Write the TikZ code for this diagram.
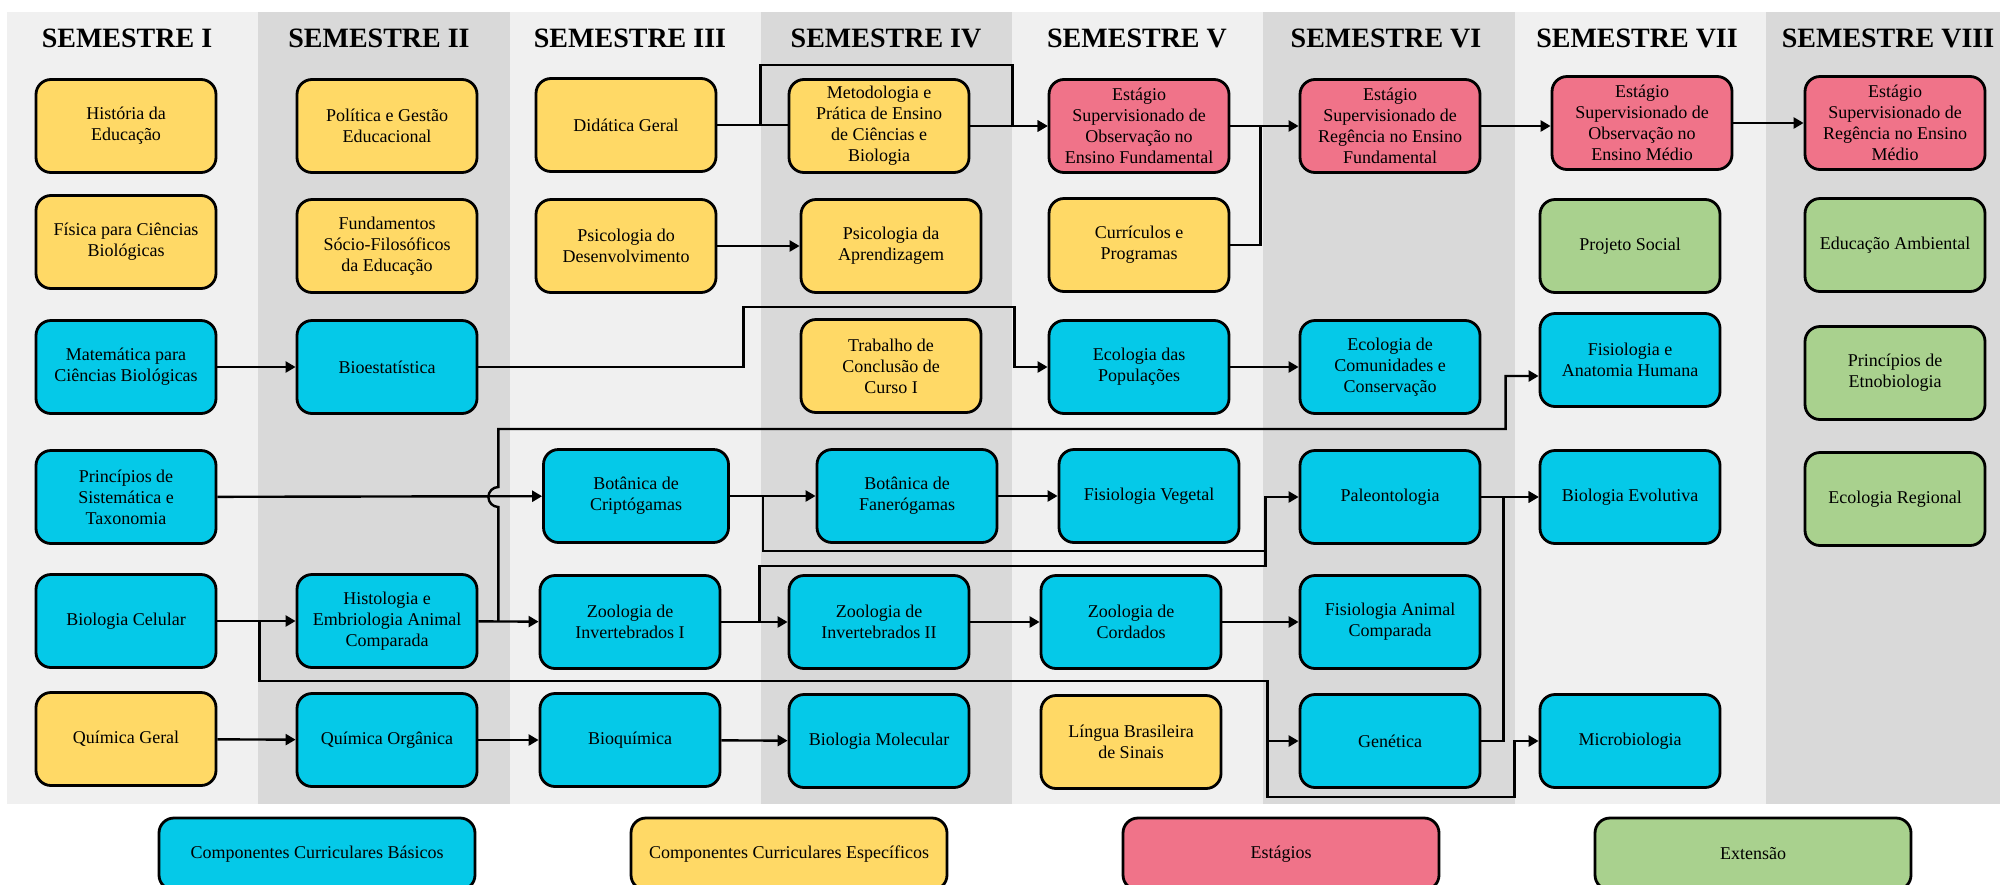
\documentclass[tikz,border=0pt]{standalone}
\usepackage{fontspec}
\setmainfont{Liberation Serif}
\usetikzlibrary{positioning}
\usetikzlibrary{calc}
\usetikzlibrary{arrows.meta}
\definecolor{azul}{RGB}{5,201,232}
\definecolor{amarelo}{RGB}{255,217,102}
\definecolor{rosa}{RGB}{240,115,137}
\definecolor{verde}{RGB}{169,209,142}
\definecolor{claro}{RGB}{240,240,240}
\definecolor{escuro}{RGB}{217,217,217}
\tikzset{>={Triangle[length=5pt,width=5.5pt]}}
\tikzset{disc/.style={draw, line width=1.4pt, rounded corners=7.5pt, minimum width=90pt, minimum height=46.5pt, inner sep=2pt, align=center, font=\fontsize{9}{10.5}\selectfont}}
\tikzset{bas/.style={disc, fill=azul}}
\tikzset{esp/.style={disc, fill=amarelo}}
\tikzset{estag/.style={disc, fill=rosa}}
\tikzset{ext/.style={disc, fill=verde}}
\tikzset{sem/.style={anchor=base, font=\fontsize{14}{16}\selectfont\bfseries}}
\tikzset{leg/.style={minimum width=158pt, minimum height=36pt}}
\tikzset{lig/.style={line width=1.2pt}}

\begin{document}
\begin{tikzpicture}[x=0.5pt, y=0.5pt, on grid]
    \useasboundingbox (0,0) rectangle (2000,-884);
    % colunas dos semestres
    \foreach \xa/\cor in {7/claro,258/escuro,510/claro,761/escuro,1012/claro,1263/escuro,1515/claro,1766/escuro}
        \fill[\cor] (\xa,-12) rectangle ++(251.5,-792);
    \foreach \xa/\num in {127/I,379/II,630/III,886/IV,1137/V,1386/VI,1637/VII,1888/VIII}
        \node[sem] (sem\num) at (\xa,-47) {SEMESTRE \num};

    % semestre I
    \node[esp] (hist) at (126,-126) {História da\\Educação};
    \node[esp, below=116 of hist] (fis) {Física para Ciências\\Biológicas};
    \node[bas, below=125 of fis] (mat) {Matemática para\\Ciências Biológicas};
    \node[bas, below=130 of mat] (princ) {Princípios de\\Sistemática e\\Taxonomia};
    \node[bas, below=124 of princ] (biocel) {Biologia Celular};
    \node[esp, below=118 of biocel] (quimg) {Química Geral};

    % semestre II
    \node[esp] (polit) at (387,-126) {Política e Gestão\\Educacional};
    \node[esp, below=120 of polit] (fund) {Fundamentos\\Sócio-Filosóficos\\da Educação};
    \node[bas, below=121 of fund] (bioest) {Bioestatística};
    \node[bas, below=254 of bioest] (histo) {Histologia e\\Embriologia Animal\\Comparada};
    \node[bas, below=119 of histo] (quimo) {Química Orgânica};

    % semestre III
    \node[esp] (didat) at (626,-125) {Didática Geral};
    \node[esp, below=121 of didat] (psidev) {Psicologia do\\Desenvolvimento};
    \node[bas, below=250 of psidev, xshift=5, minimum width=92.5pt] (botcr) {Botânica de\\Criptógamas};
    \node[bas, below=126 of botcr, xshift=-3] (zoo1) {Zoologia de\\Invertebrados I};
    \node[bas, below=118 of zoo1] (bioq) {Bioquímica};

    % semestre IV
    \node[esp] (metod) at (879,-126) {Metodologia e\\Prática de Ensino\\de Ciências e\\Biologia};
    \node[esp, below=120 of metod, xshift=6] (psiap) {Psicologia da\\Aprendizagem};
    \node[esp, below=120 of psiap] (tcc) {Trabalho de\\Conclusão de\\Curso I};
    \node[bas, below=130 of tcc, xshift=8] (botfa) {Botânica de\\Fanerógamas};
    \node[bas, below=126 of botfa, xshift=-14] (zoo2) {Zoologia de\\Invertebrados II};
    \node[bas, below=119 of zoo2] (biomol) {Biologia Molecular};

    % semestre V
    \node[estag] (est5) at (1139,-126) {Estágio\\Supervisionado de\\Observação no\\Ensino Fundamental};
    \node[esp, below=119 of est5] (curr) {Currículos e\\Programas};
    \node[bas, below=122 of curr] (ecopop) {Ecologia das\\Populações};
    \node[bas, below=129 of ecopop, xshift=5] (fisveg) {Fisiologia Vegetal};
    \node[bas, below=126 of fisveg, xshift=-9] (zoocord) {Zoologia de\\Cordados};
    \node[esp, below=120 of zoocord] (libras) {Língua Brasileira\\de Sinais};

    % semestre VI
    \node[estag] (est6) at (1390,-126) {Estágio\\Supervisionado de\\Regência no Ensino\\Fundamental};
    \node[bas, below=241 of est6] (ecocom) {Ecologia de\\Comunidades e\\Conservação};
    \node[bas, below=130 of ecocom] (paleo) {Paleontologia};
    \node[bas, below=125 of paleo] (fisan) {Fisiologia Animal\\Comparada};
    \node[bas, below=119 of fisan] (genet) {Genética};

    % semestre VII
    \node[estag] (est7) at (1642,-123) {Estágio\\Supervisionado de\\Observação no\\Ensino Médio};
    \node[ext, below=123 of est7, xshift=-6] (projsoc) {Projeto Social};
    \node[bas, below=114 of projsoc] (fisanat) {Fisiologia e\\Anatomia Humana};
    \node[bas, below=137 of fisanat] (bioevol) {Biologia Evolutiva};
    \node[bas, below=244 of bioevol] (micro) {Microbiologia};

    % semestre VIII
    \node[estag] (est8) at (1895,-123) {Estágio\\Supervisionado de\\Regência no Ensino\\Médio};
    \node[ext, below=122 of est8] (edamb) {Educação Ambiental};
    \node[ext, below=128 of edamb] (etno) {Princípios de\\Etnobiologia};
    \node[ext, below=126 of etno] (ecoreg) {Ecologia Regional};

    % legenda
    \node[bas, leg] (lbas) at (317,-854) {Componentes Curriculares Básicos};
    \node[esp, leg, right=472 of lbas] (lesp) {Componentes Curriculares Específicos};
    \node[estag, leg, right=492 of lesp] (lest) {Estágios};
    \node[ext, leg, right=472 of lest] (lext) {Extensão};

    % ligacoes
    \draw[lig] (didat.east) -- (didat.east -| metod.west);
    \draw[lig, ->] (didat.east) -- ++(43,0) |- ($(metod.north east)+(42,13)$) |- (est5.west);
    \draw[lig, ->] (metod) -- (est5);
    \draw[lig, ->] (est5) -- (est6);
    \draw[lig] (curr.east) -| ($(est5.east)+(30,0)$);
    \draw[lig, ->] (est6.east) -- (est6.east -| est7.west);
    \draw[lig, ->] (est7) -- (est8);
    \draw[lig, ->] (psidev) -- (psiap);
    \draw[lig, ->] (mat) -- (bioest);
    \draw[lig, ->] (bioest.east) -| ($(tcc.north west)+(-56,11)$) -- ($(tcc.north east)+(32,11)$) |- (ecopop.west);
    \draw[lig, ->] (ecopop) -- (ecocom);
    \draw[lig, ->] (princ) -- (botcr);
    \draw[lig, ->] (biocel) -- (histo);
    \draw[lig, ->] (histo) -- (zoo1);
    \draw[lig, ->] ($(histo.east)+(20,0)$) -- ($(histo.east |- princ)+(20,-10)$)
        arc[start angle=270, end angle=90, radius=10]
        |- ($(fisanat.west)+(-33,-69)$) |- ($(fisanat.west)+(0,-16)$);
    \draw[lig, ->] (botcr) -- (botfa);
    \draw[lig, ->] ($(botcr.east)+(33,0)$) |- ($(paleo.west)+(-33,-54)$) |- (paleo.west);
    \draw[lig, ->] (botfa) -- (fisveg);
    \draw[lig, ->] (zoo1) -- (zoo2);
    \draw[lig] ($(zoo1.east)+(38,0)$) |- ($(paleo.west)+(-33,-69)$) -- ($(paleo.west)+(-33,-54)$);
    \draw[lig, ->] (zoo2) -- (zoocord);
    \draw[lig, ->] (zoocord) -- (fisan);
    \draw[lig, ->] ($(biocel.east)+(42,0)$) |- ($(genet.west)+(-31,60)$) |- (genet.west);
    \draw[lig, ->] ($(genet.west)+(-31,0)$) |- ($(micro.west)+(-24,-56)$) |- (micro.west);
    \draw[lig, ->] (paleo) -- (bioevol);
    \draw[lig, ->] (genet.east) -| ($(bioevol.west)+(-35,0)$) -- (bioevol.west);
    \draw[lig, ->] (quimg) -- (quimo);
    \draw[lig, ->] (quimo) -- (bioq);
    \draw[lig, ->] (bioq) -- (biomol);
\end{tikzpicture}
\end{document}
